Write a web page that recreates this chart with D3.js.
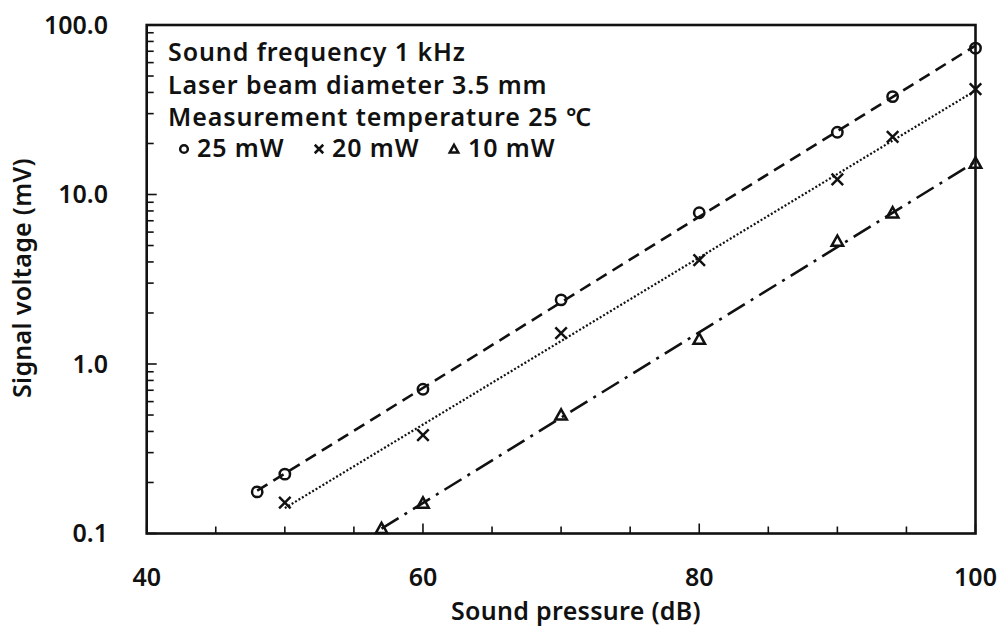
<!DOCTYPE html>
<html>
<head>
<meta charset="utf-8">
<script src="https://cdn.jsdelivr.net/npm/d3@7"></script>
<style>
  html, body { margin: 0; padding: 0; background: #fff; }
  svg { display: block; }
  text { font-family: "Noto Sans", "Open Sans", sans-serif; font-weight: 600; fill: #111; }
</style>
</head>
<body>
<svg id="chart" width="998" height="627"></svg>
<script>
// Sound pressure (dB) for each laser power
const pressure25 = [48, 50, 60, 70, 80, 90, 94, 100];
const pressure20 = [50, 60, 70, 80, 90, 94, 100];
const pressure10 = [57, 60, 70, 80, 90, 94, 100];

// Signal voltage (mV)
const voltage25 = [0.176, 0.224, 0.71, 2.39, 7.8, 23.3, 37.8, 73];
const voltage20 = [0.152, 0.38, 1.52, 4.1, 12.3, 21.9, 41.8];
const voltage10 = [0.107, 0.151, 0.50, 1.40, 5.3, 7.8, 15.3];

const xTicks = [40, 60, 80, 100];
const yTicks = [0.1, 1, 10, 100];
const yTickLabels = ["0.1", "1.0", "10.0", "100.0"];
const infoLines = ["Sound frequency 1 kHz", "Laser beam diameter 3.5 mm", "Measurement temperature 25 \u2103"];
const seriesNames = ["25 mW", "20 mW", "10 mW"];

const svg = d3.select("#chart");
const plotL = 146.7, plotR = 975.5, plotT = 25, plotB = 533.5;

const x = d3.scaleLinear().domain([40, 100]).range([plotL, plotR]);
const y = d3.scaleLog().domain([0.1, 100]).range([plotB, plotT]);

// minor ticks
const xMinor = d3.range(45, 100, 5).filter(v => !xTicks.includes(v));
const yMinor = [];
[0.1, 1, 10].forEach(d => { for (let k = 2; k <= 9; k++) yMinor.push(d * k); });

const g = svg.append("g");

g.selectAll(".xminor").data(xMinor).join("line")
  .attr("x1", d => x(d)).attr("x2", d => x(d))
  .attr("y1", plotB).attr("y2", plotB - 7)
  .attr("stroke", "#111").attr("stroke-width", 1.6);
g.selectAll(".xmajor").data(xTicks).join("line")
  .attr("x1", d => x(d)).attr("x2", d => x(d))
  .attr("y1", plotB).attr("y2", plotB - 10)
  .attr("stroke", "#111").attr("stroke-width", 1.6);
g.selectAll(".yminor").data(yMinor).join("line")
  .attr("x1", plotL).attr("x2", plotL + 7)
  .attr("y1", d => y(d)).attr("y2", d => y(d))
  .attr("stroke", "#111").attr("stroke-width", 1.6);
g.selectAll(".ymajor").data(yTicks).join("line")
  .attr("x1", plotL).attr("x2", plotL + 10)
  .attr("y1", d => y(d)).attr("y2", d => y(d))
  .attr("stroke", "#111").attr("stroke-width", 1.6);

// frame
g.append("rect")
  .attr("x", plotL).attr("y", plotT)
  .attr("width", plotR - plotL).attr("height", plotB - plotT)
  .attr("fill", "none").attr("stroke", "#111").attr("stroke-width", 2.6);

// tick labels
g.selectAll(".xlab").data(xTicks).join("text")
  .attr("x", d => x(d)).attr("y", 586)
  .attr("text-anchor", "middle")
  .attr("font-size", 25).text(d => d);
g.selectAll(".ylab").data(yTicks).join("text")
  .attr("x", 108).attr("y", d => y(d) + 8.5)
  .attr("text-anchor", "end")
  .attr("font-size", 25).text((d, i) => yTickLabels[i]);

// axis titles
g.append("text").attr("x", 576).attr("y", 620)
  .attr("text-anchor", "middle")
  .attr("font-size", 25).attr("letter-spacing", 0.3).text("Sound pressure (dB)");
g.append("text")
  .attr("transform", "translate(31,278) rotate(-90)")
  .attr("text-anchor", "middle")
  .attr("font-size", 25).attr("letter-spacing", 0.3).text("Signal voltage (mV)");

// exponential trend (least squares on log10 values)
function trend(xs, ys) {
  const ly = ys.map(v => Math.log10(v));
  const mx = d3.mean(xs), my = d3.mean(ly);
  const b = d3.sum(xs, (xv, i) => (xv - mx) * (ly[i] - my)) / d3.sum(xs, xv => (xv - mx) ** 2);
  const a = my - b * mx;
  const [x0, x1] = d3.extent(xs);
  return [[x0, 10 ** (a + b * x0)], [x1, 10 ** (a + b * x1)]];
}

const series = [
  { xs: pressure25, ys: voltage25, dash: "12,7", width: 2.6, marker: "circle" },
  { xs: pressure20, ys: voltage20, dash: "2,2", width: 2.2, marker: "cross" },
  { xs: pressure10, ys: voltage10, dash: "20,7,3,7", width: 2.6, marker: "triangle" }
];

const line = d3.line().x(d => x(d[0])).y(d => y(d[1]));

function drawMarker(sel, type, size) {
  if (type === "circle") {
    sel.append("circle").attr("r", size * 0.45)
      .attr("fill", "none").attr("stroke", "#111").attr("stroke-width", 2.5);
  } else if (type === "cross") {
    const s = size * 0.5;
    sel.append("path").attr("d", `M${-s},${-s}L${s},${s}M${-s},${s}L${s},${-s}`)
      .attr("stroke", "#111").attr("stroke-width", 2.5).attr("fill", "none");
  } else {
    const s = size * 0.5;
    sel.append("path").attr("d", `M0,${-s}L${s},${s * 0.8}L${-s},${s * 0.8}Z`)
      .attr("stroke", "#111").attr("stroke-width", 2.5).attr("fill", "none")
      .attr("stroke-linejoin", "miter");
  }
}

series.forEach(s => {
  g.append("path").datum(trend(s.xs, s.ys))
    .attr("d", line).attr("fill", "none")
    .attr("stroke", "#111").attr("stroke-width", s.width)
    .attr("stroke-dasharray", s.dash);
  const pts = s.xs.map((xv, i) => [xv, s.ys[i]]);
  g.selectAll(null).data(pts).join("g")
    .attr("transform", d => `translate(${x(d[0])},${y(d[1])})`)
    .each(function () { drawMarker(d3.select(this), s.marker, 11.5); });
});

// info block and legend
const infoBaselines = [61, 94, 126];
infoLines.forEach((t, i) => {
  g.append("text").attr("x", 168).attr("y", infoBaselines[i])
    .attr("font-size", 25).attr("letter-spacing", 0.9).text(t);
});
const legendBaseline = 157;
const legendItems = [
  { marker: "circle", sx: 184, tx: 197 },
  { marker: "cross", sx: 319, tx: 332 },
  { marker: "triangle", sx: 454, tx: 468 }
];
legendItems.forEach((it, i) => {
  const mg = g.append("g").attr("transform", `translate(${it.sx},${legendBaseline - 8})`);
  drawMarker(mg, it.marker, 8.5);
  g.append("text").attr("x", it.tx).attr("y", legendBaseline)
    .attr("font-size", 25).attr("letter-spacing", 0.9).text(seriesNames[i]);
});
</script>
</body>
</html>
